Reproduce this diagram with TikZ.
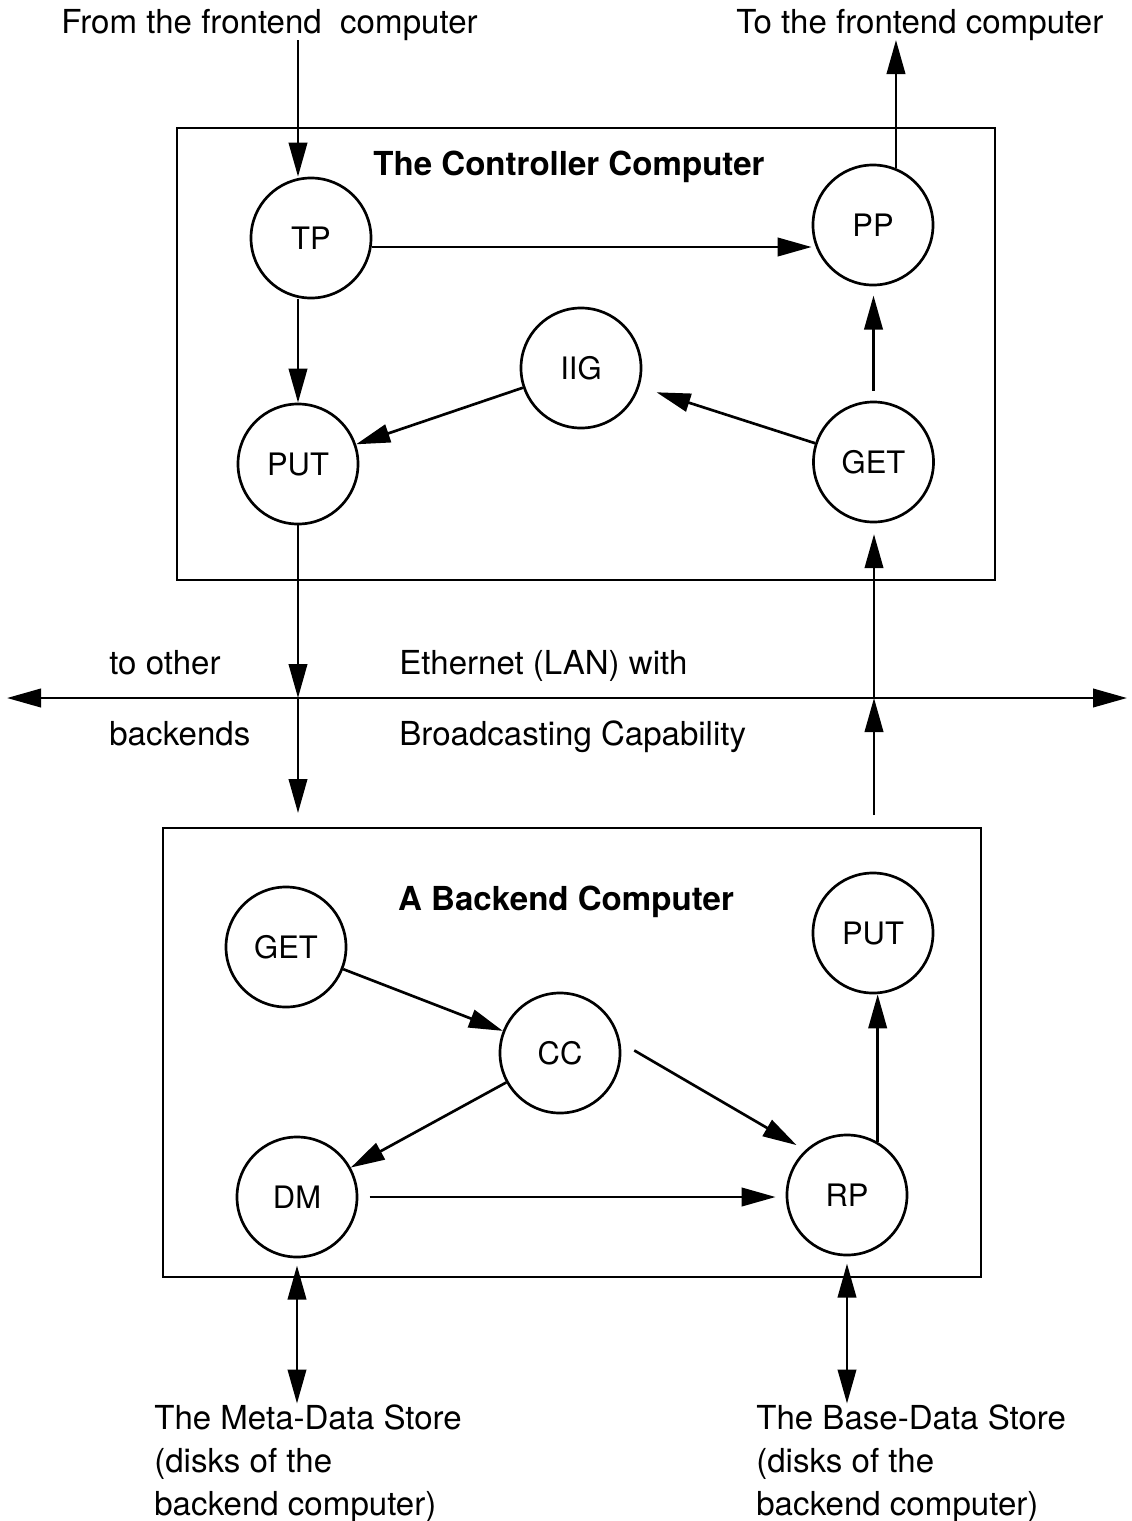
\documentclass[tikz,border=0pt]{standalone}
\usepackage{fontspec}
\setmainfont{TeX Gyre Heros}
\usetikzlibrary{arrows.meta}
\usetikzlibrary{positioning}

\begin{document}
\begin{tikzpicture} [>={Triangle[length=0.85cm,width=0.46cm]}, x=0.025cm, y=-0.025cm, line width=1.9pt]
            % Set primary nodes
            \tikzset{
                computerNode/.style={
                        draw,
                        rectangle,
                        minimum width=20.45cm,
                        inner sep=0pt
                    }
            }
            \tikzset{
                titleNode/.style={
                        anchor=base,
                        inner sep=0pt,
                        font=\fontsize{23.5}{28}\selectfont\bfseries
                    }
            }
            \tikzset{
                processNode/.style={
                        draw,
                        circle,
                        minimum size=3cm,
                        inner sep=0pt,
                        font=\fontsize{22}{26}\selectfont
                    }
            }
            \tikzset{
                textNode/.style={
                        anchor=base west,
                        inner sep=0pt,
                        font=\fontsize{23.5}{30.5}\selectfont
                    }
            }
            \tikzset{
                storeNode/.style={
                        anchor=north west,
                        align=left,
                        inner sep=0pt,
                        font=\fontsize{23.5}{30.5}\selectfont
                    }
            }
            % Configure arrows
            \tikzstyle{arrow} = [->]
            \useasboundingbox (0,0) rectangle (1132,1521);
            % Placing nodes
            \node[computerNode, minimum height=11.3cm](controller) at (586,354) {};
            \node[titleNode](controllerTitle) at (569,175) {The Controller Computer};
            \node[processNode](tp) at (311,238) {TP};
            \node[processNode](pp) at (873,225) {PP};
            \node[processNode](iig) at (581,368) {IIG};
            \node[processNode](putC) at (298,464) {PUT};
            \node[processNode](getC) at (873.5,462) {GET};
            \node[computerNode, minimum height=11.225cm](backend) at (572,1052.5) {};
            \node[titleNode](backendTitle) at (566,910) {A Backend Computer};
            \node[processNode](getB) at (286,947) {GET};
            \node[processNode](putB) at (873,933) {PUT};
            \node[processNode](cc) at (560,1053) {CC};
            \node[processNode](dm) at (297,1197) {DM};
            \node[processNode](rp) at (847,1195) {RP};
            \node[textNode](fromFront) at (60,33) {From the frontend~ computer};
            \node[textNode](toFront) at (735,33) {To the frontend computer};
            \node[textNode](toOther) at (108,674) {to other};
            \node[textNode, below = 1.775cm of toOther.base west, anchor=base west](backends) {backends};
            \node[textNode](ethernet) at (398,674) {Ethernet (LAN) with};
            \node[textNode, below = 1.775cm of ethernet.base west, anchor=base west](broadcast) {Broadcasting Capability};
            \node[storeNode](metaStore) at (153,1403.5) {The Meta-Data Store\\(disks of the\\backend computer)};
            \node[storeNode](baseStore) at (755,1403.5) {The Base-Data Store\\(disks of the\\backend computer)};
            \coordinate (fromTop) at (298,40);
            \coordinate (toTop) at (896,40);
            \coordinate (lanLeft) at (7,698);
            \coordinate (lanRight) at (1127,698);
            \coordinate (lanPut) at (298,698);
            \coordinate (lanGet) at (874,698);
            \coordinate (toBack) at (298,813);
            \coordinate (fromBack) at (874,815);
            % Draw arrows
            \draw[arrow](fromTop) -- (fromTop |- tp.north);
            \draw[arrow](pp.68) -- (pp.68 |- toTop);
            \draw[arrow]([yshift=-0.225cm]tp.east) -- ([yshift=-0.225cm]tp.east -| pp.west);
            \draw[arrow](putC |- tp.south) -- (putC.north);
            \draw[arrow](iig) -- (putC);
            \draw[arrow, shorten >=0.45cm](getC) -- (iig);
            \draw[arrow, shorten <=0.25cm, shorten >=0.23cm](getC.north) -- (getC.north |- pp.south);
            \draw[<->](lanLeft) -- (lanRight);
            \draw[arrow](putC) -- (lanPut);
            \draw[arrow](lanPut) -- (toBack);
            \draw[arrow](fromBack) -- (lanGet);
            \draw[arrow, shorten >=0.27cm](lanGet) -- (lanGet |- getC.south);
            \draw[arrow](getB) -- (cc);
            \draw[arrow](cc) -- (dm);
            \draw[arrow, shorten <=0.4cm, shorten >=0.25cm](cc.10) -- (rp.133);
            \draw[arrow, shorten <=0.28cm, shorten >=0.25cm](dm.east) -- (dm.east -| rp.west);
            \draw[arrow](rp.60) -- (rp.60 |- putB.south);
            \draw[<->, shorten <=0.18cm](dm.south) -- (dm.south |- metaStore.north);
            \draw[<->, shorten <=0.18cm](rp.south) -- (rp.south |- baseStore.north);
        \end{tikzpicture}
\end{document}
